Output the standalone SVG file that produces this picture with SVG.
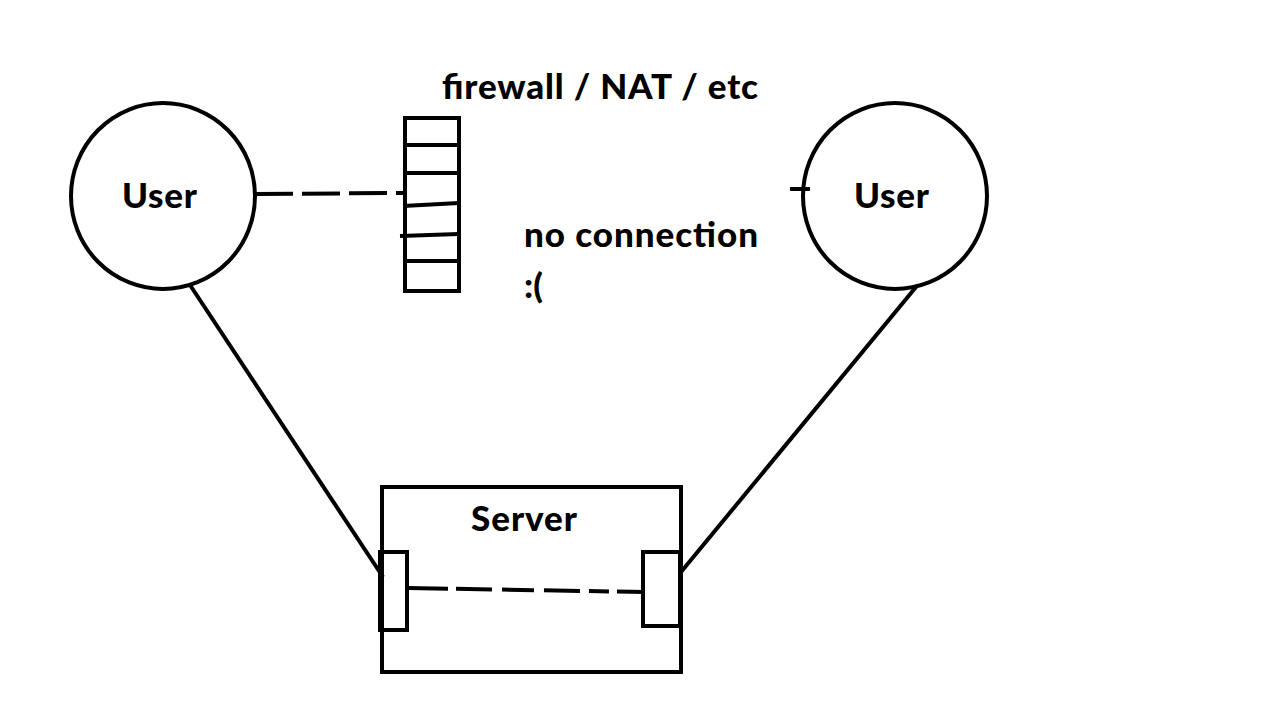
<svg xmlns="http://www.w3.org/2000/svg" width="1280" height="720" viewBox="0 0 1280 720">
<style>
.s{fill:none;stroke:#000;stroke-width:4}
.d{fill:none;stroke:#000;stroke-width:4;stroke-dasharray:38 9}
.t{font-family:Lato,"Open Sans","Liberation Sans",sans-serif;font-weight:900;font-size:35px;fill:#000}
</style>
<rect width="1280" height="720" fill="#fff"/>
<g id="connectors">
<line class="s" x1="190" y1="285" x2="383" y2="577"/>
<line class="s" x1="916" y1="287" x2="681" y2="572"/>
<path class="d" d="M255 194 L405 193"/>
<path class="d" d="M408 588 L645 592" style="stroke-dasharray:40 8 36 10 32 10 36 9 20 8 40"/>
<line class="s" x1="790" y1="189" x2="810" y2="189"/>
</g>
<g id="user-left">
<ellipse class="s" cx="163" cy="196" rx="92" ry="93"/>
<text class="t" x="122" y="208" textLength="75">User</text>
</g>
<g id="user-right">
<ellipse class="s" cx="895" cy="196" rx="92" ry="93"/>
<text class="t" x="854" y="208" textLength="75">User</text>
</g>
<g id="firewall">
<rect class="s" x="405" y="118" width="54" height="173"/>
<line class="s" x1="403" y1="145" x2="459" y2="145"/>
<line class="s" x1="405" y1="173" x2="459" y2="173"/>
<line class="s" x1="403" y1="206" x2="459" y2="203"/>
<line class="s" x1="400" y1="236" x2="459" y2="234"/>
<line class="s" x1="405" y1="261" x2="459" y2="261"/>
<text class="t" x="442" y="99" textLength="316">firewall / NAT / etc</text>
</g>
<g id="no-connection">
<text class="t" x="524" y="247" textLength="234">no connection</text>
<text class="t" x="524" y="298">:(</text>
</g>
<g id="server">
<rect class="s" x="382" y="487" width="299" height="185"/>
<rect class="s" x="380" y="552" width="27" height="78"/>
<rect class="s" x="643" y="552" width="37" height="74"/>
<text class="t" x="471" y="531" textLength="106">Server</text>
</g>
</svg>
